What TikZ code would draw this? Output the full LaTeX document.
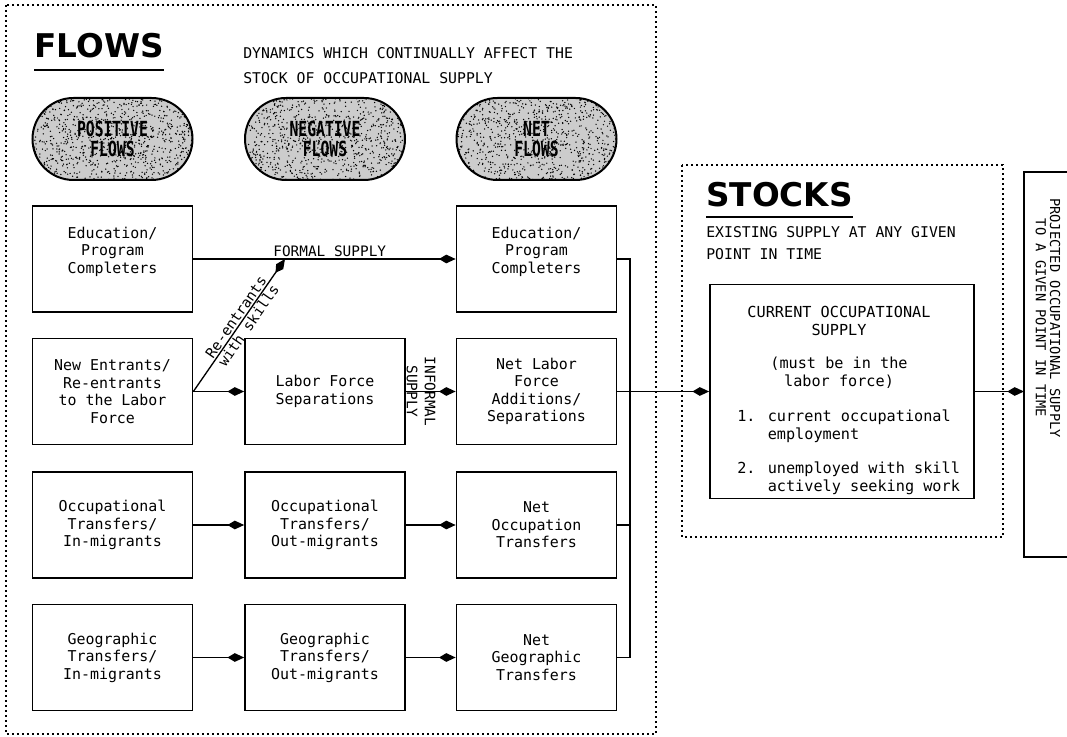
\documentclass[tikz,border=0pt]{standalone}
\usepackage{fontspec}
\usepackage{graphicx}
\setmainfont{DejaVu Sans Mono}
\newfontfamily\headfont{DejaVu Sans}
\usetikzlibrary{arrows.meta,shapes.misc}
\newcommand{\pilltxt}[1]{\scalebox{0.92}[1.3]{#1}}
\begin{document}
\begin{tikzpicture}[x=0.75pt,y=-0.75pt,
  box/.style={draw, line width=1.3pt, minimum width=120pt, minimum height=79.5pt, align=center, inner sep=0pt, font=\fontsize{11.2}{13.1}\selectfont},
  pill/.style={rounded rectangle, draw, line width=1.5pt, fill=black!20, minimum width=120pt, minimum height=61.5pt, align=center, inner sep=0pt, font=\fontsize{12}{14.5}\selectfont\bfseries,
    path picture={\foreach \k in {1,...,950}{\fill[black] ([shift={(rand*82,rand*42)}]path picture bounding box.center) circle (0.55pt);}}},
  dotbox/.style={line width=1.5pt, dash pattern=on 1.3pt off 2.45pt},
  flow/.style={line width=1pt, -{Kite[length=12.5pt,width=6.5pt,inset=5.5pt]}},
  conn/.style={line width=1pt},
  lbl/.style={font=\fontsize{10.8}{13.5}\selectfont, inner sep=1pt},
  ctext/.style={font=\fontsize{11.4}{13.5}\selectfont, inner sep=0pt},
  sub/.style={font=\fontsize{11.1}{18.75}\selectfont, inner sep=0pt, anchor=west, align=left},
  head/.style={font=\headfont\bfseries\fontsize{24.5}{30}\selectfont, inner sep=0pt, anchor=base west},
]
\pgfmathsetseed{7}
\useasboundingbox (0,0) rectangle (1067,737);

% dotted frames
\draw[dotbox] (6,5) rectangle (656,734);
\draw[dotbox] (682,165) rectangle (1003,537);

% FLOWS heading
\node[head] (flowsh) at (34,58) {FLOWS};
\draw[line width=1.8pt] ([yshift=-9pt]flowsh.base west) -- ([yshift=-9pt]flowsh.base east);
\node[sub] (flowsub) at (243,65.5) {DYNAMICS WHICH CONTINUALLY AFFECT THE\\STOCK OF OCCUPATIONAL SUPPLY};

% pills
\node[pill] (ppos) at (112.5,139) {\pilltxt{POSITIVE}\\\pilltxt{FLOWS}};
\node[pill] (pneg) at (325,139) {\pilltxt{NEGATIVE}\\\pilltxt{FLOWS}};
\node[pill] (pnet) at (536.5,139) {\pilltxt{NET}\\\pilltxt{FLOWS}};

% boxes
\node[box] (e1) at (112.5,259) {Education/\\Program\\Completers\\\mbox{}};
\node[box] (e3) at (536.5,259) {Education/\\Program\\Completers\\\mbox{}};
\node[box] (ne) at (112.5,391.5) {New Entrants/\\Re-entrants\\to the Labor\\Force};
\node[box] (lfs) at (325,391.5) {Labor Force\\Separations};
\node[box] (nl) at (536.5,391.5) {Net Labor\\Force\\Additions/\\Separations};
\node[box] (ot) at (112.5,525) {Occupational\\Transfers/\\In-migrants};
\node[box] (oo) at (325,525) {Occupational\\Transfers/\\Out-migrants};
\node[box] (no) at (536.5,525) {Net\\Occupation\\Transfers};
\node[box] (gt) at (112.5,657.5) {Geographic\\Transfers/\\In-migrants};
\node[box] (go) at (325,657.5) {Geographic\\Transfers/\\Out-migrants};
\node[box] (ng) at (536.5,657.5) {Net\\Geographic\\Transfers};

% flows
\draw[flow] (e1) -- node[lbl, above, pos=0.52] (fs) {FORMAL SUPPLY} (e3);
\coordinate (fj) at (285,259);
\draw[flow] (ne.east) -- node[lbl, sloped, above, pos=0.53] (reent) {Re-entrants} node[lbl, sloped, below, pos=0.53] (wsk) {with skills} (fj);
\draw[flow] (ne) -- (lfs);
\draw[flow] (lfs) -- (nl);
\node[lbl, rotate=-90, align=center] (inf) at (421,391.5) {INFORMAL\\SUPPLY};
\draw[flow] (ot) -- (oo);
\draw[flow] (oo) -- (no);
\draw[flow] (gt) -- (go);
\draw[flow] (go) -- (ng);

% collector
\coordinate (bus) at (630,259);
\draw[conn] (e3.east) -| (bus |- ng.east) -- (ng.east);
\draw[conn] (no.east) -- (bus |- no.east);

% STOCKS
\node[head] (stocksh) at (706,207) {STOCKS};
\draw[line width=1.8pt] ([yshift=-7.5pt]stocksh.base west) -- ([yshift=-7.5pt]stocksh.base east);
\node[sub, font=\fontsize{11.1}{16.5}\selectfont] (stocksub) at (706,243) {EXISTING SUPPLY AT ANY GIVEN\\POINT IN TIME};

\node[draw, line width=1.3pt, minimum width=198pt, minimum height=160.5pt] (cur) at (842,391.5) {};
\node[ctext, align=center] (curh) at (839,321) {CURRENT OCCUPATIONAL\\SUPPLY};
\node[ctext, align=center] (curm) at (839,372.5) {(must be in the\\labor force)};
\node[ctext, align=left, anchor=west] (cur1) at (737,426) {1. current occupational\\\phantom{1. }employment};
\node[ctext, align=left, anchor=west] (cur2) at (737,478.5) {2. unemployed with skill\\\phantom{2. }actively seeking work};

\draw[flow] (nl.east) -- (cur.west);

% projected
\draw[line width=1.3pt] (1067,172) -- (1024,172) -- (1024,557) -- (1067,557);
\coordinate (pj) at (1024,391.5);
\draw[flow] (cur.east) -- (pj);
\node[lbl, rotate=-90, align=center, font=\fontsize{10.3}{10.6}\selectfont] (proj) at (1048,318) {PROJECTED OCCUPATIONAL SUPPLY\\TO A GIVEN POINT IN TIME};
\end{tikzpicture}
\end{document}
